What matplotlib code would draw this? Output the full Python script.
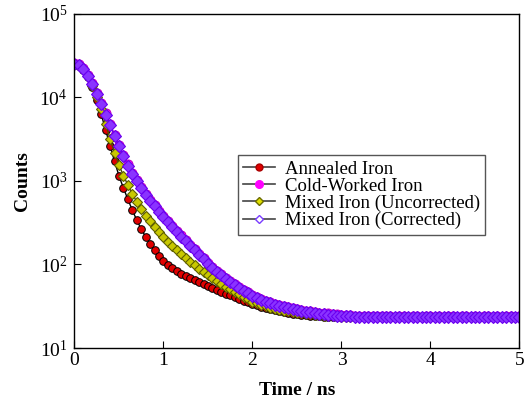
import numpy as np
import matplotlib
matplotlib.use('Agg')
import matplotlib.pyplot as plt
from matplotlib.lines import Line2D

plt.rcParams['font.family'] = ['Liberation Serif', 'DejaVu Serif']
plt.rcParams['mathtext.fontset'] = 'custom'
plt.rcParams['mathtext.rm'] = 'Liberation Serif'

# time channels (ns), 0.05 ns apart
time_ns = np.round(np.arange(101) * 0.05, 2)

annealed = [
    25100, 24000, 21400, 17400, 13200, 9330, 6310, 4070, 2630, 1720,
    1150, 822, 603, 447, 339, 266, 214, 176, 148, 126,
    110, 98.8, 90.2, 83.6, 77.6, 72.8, 68.4, 64.6, 61.0, 57.8,
    55.0, 52.1, 49.5, 47.0, 44.7, 42.6, 40.6, 38.7, 37.0, 35.4,
    33.9, 32.5, 31.3, 30.2, 29.2, 28.3, 27.5, 26.9, 26.3, 25.8,
    25.3, 24.9, 24.6, 24.3, 24.1, 23.9, 23.8, 23.7, 23.6, 23.5,
    23.6, 23.4, 23.5, 23.4, 23.6, 23.5, 23.3, 23.5, 23.4, 23.6,
    23.4, 23.5, 23.3, 23.5, 23.4, 23.6, 23.4, 23.3, 23.5, 23.4,
    23.5, 23.3, 23.4, 23.6, 23.4, 23.5, 23.3, 23.4, 23.5, 23.3,
    23.4, 23.5, 23.3, 23.4, 23.5, 23.4, 23.3, 23.5, 23.4, 23.3,
    23.4]

cold_worked = [
    25600, 24800, 22300, 18600, 14800, 11400, 8550, 6430, 4820, 3580,
    2680, 2040, 1580, 1260, 1020, 842, 705, 595, 510, 440,
    383, 334, 291, 254, 223, 197, 173, 152, 134, 118,
    105, 94.5, 84.5, 76.7, 69.6, 63.8, 58.6, 54.1, 49.9, 46.6,
    43.5, 41.0, 38.7, 37.0, 35.3, 33.9, 32.5, 31.6, 30.8, 30.1,
    29.4, 28.7, 28.0, 27.6, 27.1, 26.6, 26.2, 25.9, 25.5, 25.2,
    25.0, 24.7, 24.6, 24.4, 24.3, 24.1, 24.2, 24.0, 23.9, 24.1,
    23.9, 24.0, 23.8, 24.0, 23.9, 23.8, 24.0, 23.9, 23.8, 23.9,
    24.0, 23.8, 23.9, 23.8, 24.0, 23.9, 23.8, 23.9, 24.0, 23.8,
    23.9, 23.8, 24.0, 23.9, 23.8, 23.9, 23.8, 24.0, 23.9, 23.8,
    23.9]

mixed_uncorr = [
    25100, 24200, 21600, 17800, 13800, 10100, 7240, 4840, 3160, 2190,
    1550, 1160, 891, 705, 562, 462, 385, 329, 282, 245,
    214, 188, 166, 148, 132, 119, 107, 97.5, 88.7, 81.5,
    75.0, 69.0, 63.5, 58.7, 54.3, 50.5, 46.9, 43.8, 40.8, 38.3,
    35.9, 34.3, 32.7, 31.6, 30.4, 29.5, 28.7, 28.1, 27.5, 27.0,
    26.6, 26.2, 25.8, 25.4, 25.1, 24.8, 24.5, 24.3, 24.1, 23.9,
    23.8, 23.7, 23.6, 23.5, 23.6, 23.4, 23.5, 23.6, 23.4, 23.5,
    23.6, 23.4, 23.5, 23.4, 23.6, 23.5, 23.4, 23.5, 23.6, 23.4,
    23.5, 23.4, 23.6, 23.5, 23.4, 23.5, 23.4, 23.6, 23.5, 23.4,
    23.5, 23.4, 23.5, 23.6, 23.4, 23.5, 23.4, 23.5, 23.4, 23.5,
    23.5]

mixed_corr = [
    25400, 24500, 21900, 18200, 14450, 11100, 8300, 6240, 4680, 3470,
    2600, 1980, 1530, 1220, 990, 817, 684, 578, 495, 427,
    372, 324, 282, 247, 216, 191, 168, 148, 130, 115,
    102, 92.0, 82.0, 74.5, 67.6, 61.9, 56.9, 52.5, 48.4, 45.2,
    42.2, 39.8, 37.6, 35.9, 34.3, 32.9, 31.6, 30.7, 29.9, 29.2,
    28.5, 27.9, 27.2, 26.8, 26.3, 25.8, 25.4, 25.1, 24.8, 24.5,
    24.3, 24.0, 23.9, 23.7, 23.6, 23.5, 23.6, 23.4, 23.5, 23.3,
    23.5, 23.4, 23.6, 23.4, 23.3, 23.5, 23.4, 23.6, 23.3, 23.5,
    23.4, 23.5, 23.3, 23.4, 23.6, 23.4, 23.5, 23.3, 23.4, 23.5,
    23.3, 23.4, 23.6, 23.4, 23.5, 23.3, 23.4, 23.5, 23.4, 23.3,
    23.4]

labels = ['Annealed Iron', 'Cold-Worked Iron',
          'Mixed Iron (Uncorrected)', 'Mixed Iron (Corrected)']

fig = plt.figure(figsize=(5.26, 4.08), dpi=100)
ax = fig.add_axes([0.1416, 0.147, 0.846, 0.819])

ax.plot(time_ns, annealed, '-', color='black', lw=1.0, marker='o', ms=5.5,
        mfc='#e00000', mec='black', mew=0.7)
ax.plot(time_ns, cold_worked, '-', color='#b000b0', lw=1.0, marker='o', ms=6.5,
        mfc='#ff00ff', mec='#c000c0', mew=0.7)
ax.plot(time_ns, mixed_uncorr, '-', color='#505000', lw=1.0, marker='D', ms=5,
        mfc='#c8c800', mec='#5e5e00', mew=0.8)
ax.plot(time_ns, mixed_corr, '-', color='#6a00f0', lw=1.0, marker='D', ms=6.5,
        mfc='#8a33ff', mec='#6a00f0', mew=0.8)

ax.set_yscale('log')
ax.set_xlim(0, 5)
ax.set_ylim(10, 1e5)
ax.set_xticks([0, 1, 2, 3, 4, 5])
ax.set_yticks([10, 100, 1000, 10000, 100000])
ax.minorticks_off()
ax.tick_params(direction='in', labelsize=14, length=5, width=0.8, pad=5)
ax.tick_params(axis='x', pad=3)
for s in ax.spines.values():
    s.set_linewidth(1.0)

ax.set_xlabel('Time / ns', fontsize=14, fontweight='bold', labelpad=9)
ax.set_ylabel('Counts', fontsize=14, fontweight='bold', labelpad=6)

# legend shows the open/filled symbols as in the original figure
handles = [
    Line2D([], [], color='#444444', lw=1.2, marker='o', ms=5, mfc='#e00000', mec='#aa0000'),
    Line2D([], [], color='#444444', lw=1.2, marker='o', ms=5.5, mfc='#ff00ff', mec='#ff00ff'),
    Line2D([], [], color='#444444', lw=1.2, marker='D', ms=4.5, mfc='#e0e000', mec='#6b6b00'),
    Line2D([], [], color='#444444', lw=1.2, marker='D', ms=4.5, mfc='white', mec='#7a3cff'),
]
leg = ax.legend(handles, labels, loc='upper left', bbox_to_anchor=(0.367, 0.578),
                borderaxespad=0, fontsize=13.5, handlelength=1.7, labelspacing=0.0,
                handletextpad=0.5, borderpad=0.3, fancybox=False, framealpha=1)
leg.get_frame().set_edgecolor('#555555')
leg.get_frame().set_linewidth(1.0)

fig.savefig('out.png', dpi=100)
